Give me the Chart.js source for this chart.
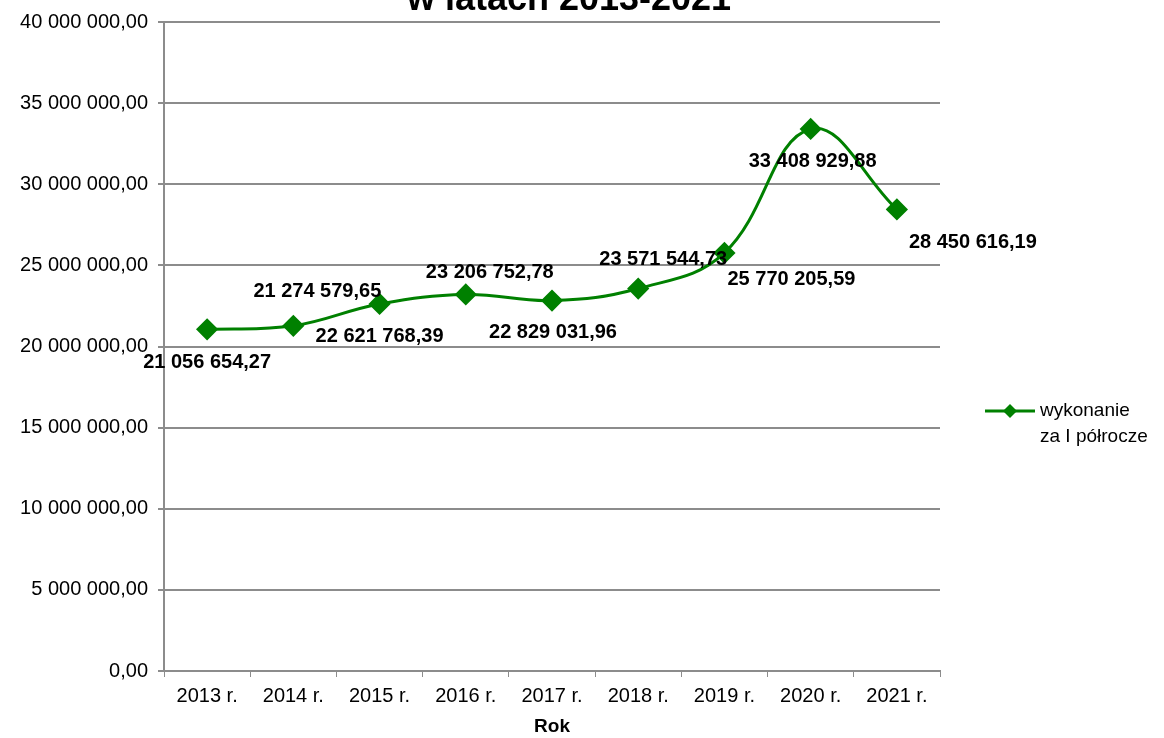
<!DOCTYPE html>
<html>
<head>
<meta charset="utf-8">
<script src="https://cdn.jsdelivr.net/npm/chart.js@4/dist/chart.umd.min.js"></script>
<style>
  html, body { margin: 0; padding: 0; background: #fff; }
  #wrap { width: 1164px; height: 738px; }
</style>
</head>
<body>
<div id="wrap"><canvas id="myChart"></canvas></div>
<script>
const labels = ["2013 r.", "2014 r.", "2015 r.", "2016 r.", "2017 r.", "2018 r.", "2019 r.", "2020 r.", "2021 r."];
const wykonanie = [21056654.27, 21274579.65, 22621768.39, 23206752.78, 22829031.96, 23571544.73, 25770205.59, 33408929.88, 28450616.19];
const yTicks = [0, 5000000, 10000000, 15000000, 20000000, 25000000, 30000000, 35000000, 40000000];
// label offsets (px) from each point, as placed in the original
const labelDx = [0, 24, 0, 24, 1, 25, 67, 2, 76];
const labelDy = [33, -34, 33, -22, 32, -29, 27, 33, 33];

const green = '#008000';
const font = '"Liberation Sans", Arial, sans-serif';

function plFormat(v, dec) {
  const parts = v.toFixed(dec).split('.');
  const intPart = parts[0].replace(/\B(?=(\d{3})+(?!\d))/g, ' ');
  return dec ? intPart + ',' + parts[1] : intPart;
}

const extras = {
  id: 'extras',
  afterDatasetsDraw(chart) {
    const ctx = chart.ctx;
    const meta = chart.getDatasetMeta(0);
    ctx.save();
    // data labels
    ctx.fillStyle = '#000';
    ctx.font = 'bold 20px ' + font;
    ctx.textAlign = 'center';
    ctx.textBaseline = 'middle';
    meta.data.forEach((pt, i) => {
      ctx.fillText(plFormat(wykonanie[i], 2), pt.x + labelDx[i], pt.y + labelDy[i]);
    });
    // title (cut off at top)
    ctx.font = 'bold 36px ' + font;
    ctx.textBaseline = 'alphabetic';
    ctx.fillText('w latach 2013-2021', 569, 10);
    // legend
    const lx = 985, ly = 411;
    ctx.strokeStyle = green;
    ctx.lineWidth = 3;
    ctx.beginPath();
    ctx.moveTo(lx, ly);
    ctx.lineTo(lx + 50, ly);
    ctx.stroke();
    ctx.fillStyle = green;
    ctx.beginPath();
    ctx.moveTo(lx + 25, ly - 7);
    ctx.lineTo(lx + 32, ly);
    ctx.lineTo(lx + 25, ly + 7);
    ctx.lineTo(lx + 18, ly);
    ctx.closePath();
    ctx.fill();
    ctx.fillStyle = '#000';
    ctx.font = '19px ' + font;
    ctx.textAlign = 'left';
    ctx.textBaseline = 'middle';
    ctx.fillText('wykonanie', lx + 55, ly);
    ctx.fillText('za I półrocze', lx + 55, ly + 26);
    ctx.restore();
  }
};

const config = {
  type: 'line',
  data: {
    labels: labels,
    datasets: [{
      label: 'wykonanie za I półrocze',
      data: wykonanie,
      borderColor: green,
      backgroundColor: green,
      borderWidth: 3,
      tension: 0.4,
      pointStyle: 'rectRot',
      pointRadius: 9,
      pointHoverRadius: 9,
      pointBackgroundColor: green,
      pointBorderColor: green
    }]
  },
  options: {
    responsive: true,
    maintainAspectRatio: false,
    animation: false,
    layout: { padding: { top: 21, right: 224, left: 0, bottom: 0 } },
    plugins: {
      legend: { display: false },
      tooltip: { enabled: false }
    },
    scales: {
      x: {
        offset: true,
        grid: { display: true, offset: true, drawOnChartArea: false, drawTicks: true, tickLength: 6, color: '#8c8c8c', lineWidth: 1 },
        border: { color: '#8c8c8c', width: 2 },
        ticks: { color: '#000', font: { family: font, size: 20 }, padding: 7, maxRotation: 0 },
        title: { display: true, text: 'Rok', color: '#000', font: { family: font, size: 19, weight: 'bold' }, padding: { top: 6, bottom: 0 } },
        afterFit(scale) { scale.height = 67; }
      },
      y: {
        min: 0,
        max: 40000000,
        afterBuildTicks(scale) { scale.ticks = yTicks.map(v => ({ value: v })); },
        grid: { color: '#8c8c8c', lineWidth: 2, tickLength: 6 },
        border: { color: '#8c8c8c', width: 2 },
        ticks: {
          color: '#000',
          font: { family: font, size: 20 },
          padding: 10,
          callback: v => plFormat(v, 2)
        },
        afterFit(scale) { scale.width = 164; }
      }
    }
  },
  plugins: [extras]
};

const myChart = new Chart(document.getElementById('myChart'), config);
</script>
</body>
</html>
